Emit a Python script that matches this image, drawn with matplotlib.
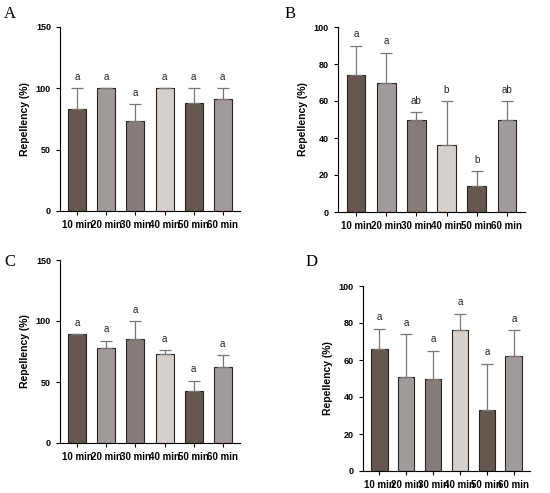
import matplotlib
matplotlib.use("Agg")
import matplotlib.pyplot as plt
from matplotlib import font_manager

cats = ["10 min", "20 min", "30 min", "40 min", "50 min", "60 min"]
A_val = [83, 100, 73, 100, 88, 91]; A_err = [17, 0, 14, 0, 12, 9]; A_lab = ["a"]*6
B_val = [74, 70, 50, 36, 14, 50]; B_err = [16, 16, 4, 24, 8, 10]; B_lab = ["a", "a", "ab", "b", "b", "ab"]
C_val = [89, 78, 85, 73, 43, 62]; C_err = [0, 6, 15, 3, 8, 10]; C_lab = ["a"]*6
D_val = [66, 51, 50, 76, 33, 62]; D_err = [11, 23, 15, 9, 25, 14]; D_lab = ["a"]*6
colors = ["#65574f", "#a19a9a", "#857c7a", "#d6d0cd", "#65574f", "#a19a9a"]

names = {f.name for f in font_manager.fontManager.ttflist}
narrow = "Liberation Sans Narrow" if "Liberation Sans Narrow" in names else "Liberation Sans"

W, H = 550, 493
fig = plt.figure(figsize=(5.5, 4.93), dpi=100)

def panel(letter, left, right, top, bottom, vals, errs, labs, ymax, ticks, lx, ly):
    ax = fig.add_axes([left/W, 1-bottom/H, (right-left)/W, (bottom-top)/H])
    x = range(len(cats))
    ax.bar(x, vals, width=0.62, color=colors, edgecolor="#2a2420", linewidth=0.8)
    ax.errorbar(x, vals, yerr=[[0]*6, errs], fmt="none", ecolor="#777777",
                elinewidth=0.9, capsize=4, capthick=0.9)
    off = ymax*0.035
    for i in x:
        ax.text(i, vals[i]+errs[i]+off, labs[i], ha="center", va="bottom", fontsize=7, color="#222222",
                family="Liberation Sans")
    ax.set_ylim(0, ymax)
    ax.set_yticks(ticks)
    ax.set_xlim(-0.6, 5.6)
    ax.set_xticks(list(x))
    ax.set_xticklabels(cats, fontsize=7, fontweight="bold", family=narrow)
    ax.tick_params(axis="y", labelsize=6.5, length=3)
    ax.tick_params(axis="x", length=3)
    for t in ax.get_yticklabels():
        t.set_fontweight("bold"); t.set_family(narrow)
    ax.set_ylabel("Repellency (%)", fontsize=7.5, fontweight="bold", family="Liberation Sans")
    ax.spines["top"].set_visible(False)
    ax.spines["right"].set_visible(False)
    fig.text(lx/W, 1-ly/H, letter, fontsize=12, family="Liberation Serif", va="center")

panel("A", 60, 240, 27, 211, A_val, A_err, A_lab, 150, [0, 50, 100, 150], 4, 14)
panel("B", 338, 525, 27, 212, B_val, B_err, B_lab, 100, [0, 20, 40, 60, 80, 100], 285, 14)
panel("C", 60, 240, 260, 443, C_val, C_err, C_lab, 150, [0, 50, 100, 150], 4, 262)
panel("D", 363, 530, 286, 471, D_val, D_err, D_lab, 100, [0, 20, 40, 60, 80, 100], 306, 262)

fig.savefig("out.png", dpi=100)
